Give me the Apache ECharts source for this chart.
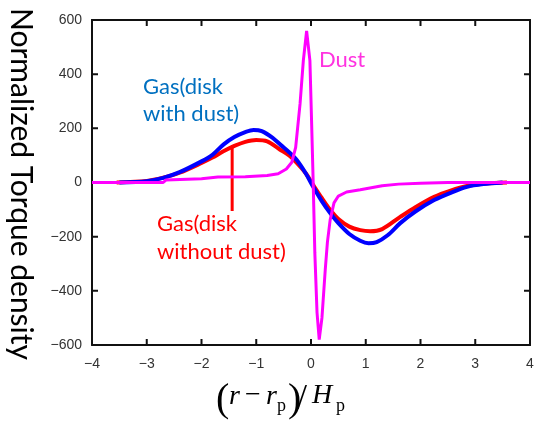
<!DOCTYPE html>
<html>
<head>
<meta charset="utf-8">
<script src="https://cdn.jsdelivr.net/npm/echarts@6/dist/echarts.min.js"></script>
<style>
  html, body { margin: 0; padding: 0; background: #fff; }
  #chart { width: 539px; height: 422px; }
</style>
</head>
<body>
<div id="chart"></div>
<script>
// x = (r - rp)/Hp, y = normalized torque density
const gasDustX = [-3.5, -3.0, -2.7, -2.4, -2.0, -1.8, -1.6, -1.4, -1.2, -1.05, -0.9, -0.7, -0.55, -0.4, -0.26, -0.1, 0.04, 0.2, 0.35, 0.5, 0.7, 0.9, 1.05, 1.2, 1.4, 1.63, 1.9, 2.25, 2.55, 2.85, 3.15, 3.5];
const gasDustY = [0, 5, 17, 38, 78, 102, 140, 168, 186, 194, 190, 165, 138, 112, 83, 35, -16, -70, -113, -150, -190, -215, -224, -220, -195, -150, -108, -65, -38, -16, -6, 0];

const gasNoDustX = [-3.55, -3.0, -2.7, -2.4, -2.0, -1.8, -1.6, -1.4, -1.2, -1.0, -0.8, -0.57, -0.4, -0.26, -0.1, 0.04, 0.2, 0.35, 0.5, 0.7, 0.9, 1.08, 1.3, 1.63, 1.9, 2.25, 2.55, 2.85, 3.2, 3.58];
const gasNoDustY = [0, 6, 18, 36, 72, 92, 115, 135, 150, 157, 152, 122, 100, 72, 35, -9, -58, -101, -135, -163, -176, -180, -172, -127, -92, -53, -30, -13, -4, 0];

const dustX = [-4, -2.7, -2.65, -2.0, -1.7, -1.2, -0.8, -0.6, -0.45, -0.35, -0.28, -0.2, -0.14, -0.08, -0.06, -0.02, 0.01, 0.04, 0.07, 0.11, 0.15, 0.2, 0.26, 0.3, 0.35, 0.42, 0.5, 0.65, 0.9, 1.3, 1.6, 2.0, 2.5, 4];
const dustY = [0, 0, 9, 14, 20, 21, 26, 32, 50, 75, 130, 290, 450, 560, 560, 450, 230, 0, -260, -480, -580, -500, -323, -220, -138, -75, -50, -35, -27, -12, -6, -3, 0, 0];

// red pointer from the "without dust" label up to its curve
const pointerX = [-1.44, -1.44];
const pointerY = [131, -105];

const xTicks = [-4, -3, -2, -1, 0, 1, 2, 3, 4];
const yTicks = [-600, -400, -200, 0, 200, 400, 600];

const pairs = (xs, ys) => xs.map((x, i) => [x, ys[i]]);
const minus = v => String(v).replace('-', '\u2212');
const ink = '#111111';

const chart = echarts.init(document.getElementById('chart'));

const x0 = xTicks[0], x1 = xTicks[xTicks.length - 1];
const y0 = yTicks[0], y1 = yTicks[yTicks.length - 1];

// box round the plot and inward ticks on all four sides, in data units
const frame = [[x0, y0], [x1, y0], [x1, y1], [x0, y1], [x0, y0]];
const tickDx = (x1 - x0) * 6 / 438;
const tickDy = (y1 - y0) * 6 / 325;
const gap = ['-', '-'];
const tickMarks = [];
xTicks.slice(1, -1).forEach(x => {
    tickMarks.push([x, y0], [x, y0 + tickDy], gap, [x, y1], [x, y1 - tickDy], gap);
});
yTicks.slice(1, -1).forEach(y => {
    tickMarks.push([x0, y], [x0 + tickDx, y], gap, [x1, y], [x1 - tickDx, y], gap);
});

function axis(kind, position, labels) {
    const ticks = kind === 'x' ? xTicks : yTicks;
    return {
        type: 'value',
        min: ticks[0],
        max: ticks[ticks.length - 1],
        interval: ticks[1] - ticks[0],
        position: position,
        axisLine: { show: true, onZero: false, lineStyle: { color: ink, width: 2 } },
        axisTick: { show: false },
        splitLine: { show: false },
        axisLabel: labels ? {
            show: true, margin: kind === 'x' ? 12 : 10, formatter: minus,
            color: '#333', fontFamily: 'Liberation Sans', fontSize: 14
        } : { show: false }
    };
}

function lineSeries(name, xs, ys, color, width, smooth) {
    return {
        name: name,
        type: 'line',
        data: pairs(xs, ys),
        showSymbol: false,
        smooth: smooth || false,
        lineStyle: { color: color, width: width }
    };
}

const serif = 'Liberation Serif';

function label(props) {
    return Object.assign({ type: 'text', z: 100 }, props);
}

function mathText(x, y, text, font) {
    return label({ x: x, y: y, style: { text: text, fill: '#000', font: font, verticalAlign: 'middle' } });
}

chart.setOption({
    animation: false,
    grid: { left: 92, right: 9, top: 20, bottom: 77, outerBoundsMode: 'none' },
    xAxis: [axis('x', 'bottom', true), axis('x', 'top', false)],
    yAxis: [axis('y', 'left', true), axis('y', 'right', false)],
    series: [
        {
            name: 'frame', type: 'line', data: frame, showSymbol: false, clip: false,
            lineStyle: { color: ink, width: 2 }, silent: true
        },
        {
            name: 'ticks', type: 'line', data: tickMarks, showSymbol: false, clip: false,
            connectNulls: false, lineStyle: { color: ink, width: 2 }, silent: true
        },
        lineSeries('pointer', pointerX, pointerY, '#ff0000', 3),
        lineSeries('Gas(disk without dust)', gasNoDustX, gasNoDustY, '#ff0000', 4, 0.3),
        lineSeries('Gas(disk with dust)', gasDustX, gasDustY, '#0000ff', 4, 0.3),
        lineSeries('Dust', dustX, dustY, '#ff00ff', 3)
    ],
    graphic: [
        label({
            x: 21, y: 184, rotation: -Math.PI / 2,
            style: { text: 'Normalized Torque density', fill: '#000', font: '30px Lato', align: 'center', verticalAlign: 'middle' }
        }),
        label({ left: 143, top: 73, style: { text: 'Gas(disk\nwith dust)', fill: '#0070c0', font: '22px Lato', lineHeight: 27 } }),
        label({ left: 157, top: 210, style: { text: 'Gas(disk\nwithout dust)', fill: '#ff0000', font: '22px Lato', lineHeight: 28 } }),
        label({ left: 319, top: 49, style: { text: 'Dust', fill: '#ff33e0', font: '22px Lato' } }),
        // x axis title: (r - r_p)/H_p
        mathText(216, 400, '(', '40px ' + serif),
        mathText(229, 397, 'r', 'italic 28px ' + serif),
        mathText(245, 396, '\u2212', '28px ' + serif),
        mathText(266, 397, 'r', 'italic 28px ' + serif),
        mathText(277, 406, 'p', '18px ' + serif),
        mathText(288, 400, ')', '40px ' + serif),
        mathText(297, 400, '/', '36px ' + serif),
        mathText(312, 396, 'H', 'italic 28px ' + serif),
        mathText(336, 406, 'p', '18px ' + serif)
    ]
});
</script>
</body>
</html>
